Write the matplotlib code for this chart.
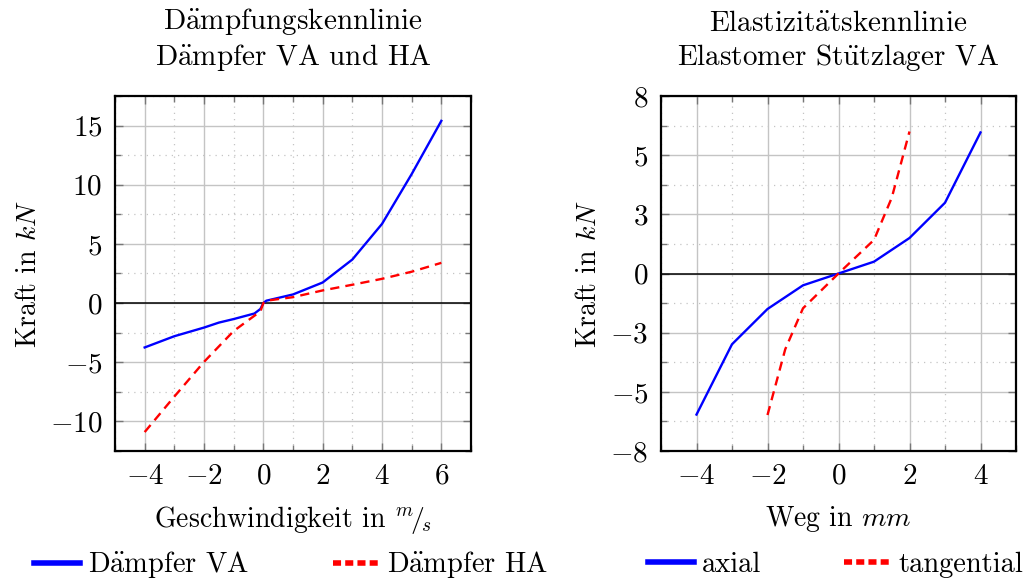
import matplotlib
matplotlib.use("Agg")
import matplotlib.pyplot as plt
from matplotlib.ticker import FixedLocator, FixedFormatter, MultipleLocator
from matplotlib.lines import Line2D

plt.rcParams["font.family"] = ["cmr10", "DejaVu Serif"]
plt.rcParams["mathtext.fontset"] = "cm"
plt.rcParams["font.size"] = 20
plt.rcParams["axes.formatter.use_mathtext"] = True

# Damper curves: velocity in m/s, force in kN
v_va = [-4, -3, -2, -1.5, -1, -0.3, -0.1, 0, 0.1, 1, 2, 3, 4, 5, 6]
f_va = [-3.75, -2.8, -2.07, -1.65, -1.35, -0.88, -0.5, 0, 0.2, 0.73, 1.74, 3.68, 6.69, 10.9, 15.4]
v_ha = [-4, -3, -2, -1, -0.1, 0, 0.1, 1, 2, 3, 4, 5, 6]
f_ha = [-10.9, -7.9, -4.97, -2.36, -0.7, 0, 0.2, 0.5, 1.07, 1.55, 2.05, 2.65, 3.4]

# Elastomer top mount: travel in mm, force in kN
s_ax = [-4, -3, -2, -1, 0, 1, 2, 3, 4]
f_ax = [-5.96, -2.99, -1.5, -0.5, 0, 0.5, 1.5, 2.99, 5.96]
s_tan = [-2, -1.5, -1, 0, 1, 1.5, 2]
f_tan = [-5.98, -3.2, -1.47, 0, 1.42, 3.2, 6.0]

left_xticks = [-4, -2, 0, 2, 4, 6]
left_yticks = [-10, -5, 0, 5, 10, 15]
right_xticks = [-4, -2, 0, 2, 4]
right_yticks = [-7.5, -5, -2.5, 0, 2.5, 5, 7.5]
right_ylabels = ["−8", "−5", "−3", "0", "3", "5", "8"]

BLUE = "#0000ff"
RED = "#ff0000"

# umlauts set as accented roman letters so they share the Computer Modern face
AE = r"$\ddot{\rm a}$"
UE = r"$\ddot{\rm u}$"

fig = plt.figure(figsize=(10.31, 5.81), dpi=100)
ax1 = fig.add_axes([115 / 1031, 1 - 451 / 581, 356 / 1031, 355 / 581])
ax2 = fig.add_axes([661 / 1031, 1 - 451 / 581, 355 / 1031, 355 / 581])


def mathlabel(v):
    if v < 0:
        return r"$-%g$" % abs(v)
    return r"$%g$" % v


def style(ax, xticks, xminor, yticks, yminor, ylabels=None):
    ax.xaxis.set_major_locator(FixedLocator(xticks))
    ax.xaxis.set_major_formatter(FixedFormatter([mathlabel(v) for v in xticks]))
    ax.yaxis.set_major_locator(FixedLocator(yticks))
    if ylabels is None:
        ylabels = [mathlabel(v) for v in yticks]
    else:
        ylabels = [r"$%s$" % s.replace("−", "-") for s in ylabels]
    ax.yaxis.set_major_formatter(FixedFormatter(ylabels))
    ax.xaxis.set_minor_locator(MultipleLocator(xminor))
    ax.yaxis.set_minor_locator(MultipleLocator(yminor))
    ax.grid(which="major", color="#c4c4c4", lw=1.0, ls="-", zorder=0)
    ax.grid(which="minor", color="#c4c4c4", lw=0.9, ls=(0, (1, 4)), zorder=0)
    ax.set_axisbelow(True)
    ax.tick_params(which="both", direction="in", top=True, right=True,
                   color="#777777", width=1.0)
    ax.tick_params(which="major", length=6, pad=9, labelsize=21)
    ax.tick_params(which="minor", length=4)
    for sp in ax.spines.values():
        sp.set_linewidth(1.6)
        sp.set_color("black")
        sp.set_zorder(5)
    ax.axhline(0, color="black", lw=1.1, zorder=1)


style(ax1, left_xticks, 1, left_yticks, 2.5)
ax1.set_xlim(-5, 7)
ax1.set_ylim(-12.5, 17.5)
ax1.plot(v_va, f_va, color=BLUE, lw=1.7, zorder=3)
ax1.plot(v_ha, f_ha, color=RED, lw=1.7, dashes=(3.9, 2.6), zorder=3)
ax1.set_title(f"D{AE}mpfungskennlinie\nD{AE}mpfer VA und HA",
              fontsize=21, pad=22, linespacing=1.22)
ax1.set_xlabel(r"Geschwindigkeit in $^{m}\!/_{\!s}$", fontsize=20, labelpad=10)
ax1.set_ylabel(r"Kraft in $kN$", fontsize=20, labelpad=6)

style(ax2, right_xticks, 1, right_yticks, 1.25, right_ylabels)
ax2.set_xlim(-5, 5)
ax2.set_ylim(-7.5, 7.5)
ax2.plot(s_ax, f_ax, color=BLUE, lw=1.7, zorder=3)
ax2.plot(s_tan, f_tan, color=RED, lw=1.7, dashes=(3.9, 2.6), zorder=3)
ax2.set_title(f"Elastizit{AE}tskennlinie\nElastomer St{UE}tzlager VA",
              fontsize=21, pad=22, linespacing=1.22)
ax2.set_xlabel(r"Weg in $mm$", fontsize=20, labelpad=10)
ax2.set_ylabel(r"Kraft in $kN$", fontsize=20, labelpad=6)


def handles():
    return [Line2D([], [], color=BLUE, lw=4),
            Line2D([], [], color=RED, lw=4, dashes=(1.45, 0.75))]


leg_kw = dict(loc="center left", ncol=2, frameon=False, borderpad=0,
              borderaxespad=0, handlelength=1.6, handletextpad=0.3, fontsize=20.5)
fig.legend(handles(), [f"D{AE}mpfer VA", f"D{AE}mpfer HA"],
           bbox_to_anchor=(34 / 1031, 1 - 565 / 581), columnspacing=2.95, **leg_kw)
fig.legend(handles(), ["axial", "tangential"],
           bbox_to_anchor=(648 / 1031, 1 - 565 / 581), columnspacing=2.9, **leg_kw)

fig.savefig("out.png", dpi=100)
